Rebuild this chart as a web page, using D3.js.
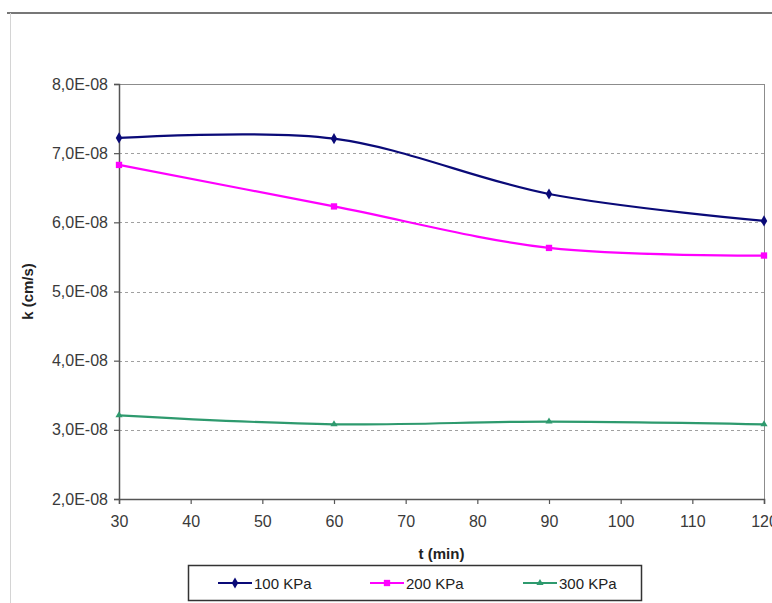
<!DOCTYPE html>
<html>
<head>
<meta charset="utf-8">
<script src="https://cdn.jsdelivr.net/npm/d3@7/dist/d3.min.js"></script>
<style>
  body { margin: 0; background: #fff; }
  svg { display: block; }
  text { font-family: "Liberation Sans", Arial, sans-serif; }
</style>
</head>
<body>
<svg id="chart" width="772" height="603"></svg>
<script>
// ---- data ----
const times = [30, 60, 90, 120];
const k100 = [7.22e-8, 7.21e-8, 6.41e-8, 6.02e-8];
const k200 = [6.83e-8, 6.23e-8, 5.63e-8, 5.52e-8];
const k300 = [3.21e-8, 3.08e-8, 3.12e-8, 3.08e-8];
const seriesNames = ["100 KPa", "200 KPa", "300 KPa"];
const seriesColors = ["#0a0a78", "#ff00ff", "#2e9a6e"];
const xTicks = [30, 40, 50, 60, 70, 80, 90, 100, 110, 120];
const yTicks = [2e-8, 3e-8, 4e-8, 5e-8, 6e-8, 7e-8, 8e-8];
const yTickLabels = ["2,0E-08", "3,0E-08", "4,0E-08", "5,0E-08", "6,0E-08", "7,0E-08", "8,0E-08"];
const xTitle = "t (min)";
const yTitle = "k (cm/s)";

const svg = d3.select("#chart");
const W = 772, H = 603;
const m = { left: 119, right: 764, top: 84, bottom: 499 };

// outer chart-area frame (cropped)
svg.append("line").attr("x1", 7).attr("x2", W).attr("y1", 13).attr("y2", 13)
  .attr("stroke", "#777").attr("stroke-width", 2);
svg.append("line").attr("x1", 10.5).attr("x2", 10.5).attr("y1", 13).attr("y2", H)
  .attr("stroke", "#d4d4d4").attr("stroke-width", 1);

const x = d3.scaleLinear().domain([30, 120]).range([m.left, m.right]);
const y = d3.scaleLinear().domain([2e-8, 8e-8]).range([m.bottom, m.top]);

// gridlines
svg.append("g").selectAll("line")
  .data(yTicks.filter(v => v > 2e-8 && v < 8e-8))
  .join("line")
  .attr("x1", m.left).attr("x2", m.right)
  .attr("y1", d => Math.round(y(d)) + 0.5).attr("y2", d => Math.round(y(d)) + 0.5)
  .attr("stroke", "#a0a0a0").attr("stroke-width", 1).attr("stroke-dasharray", "3,3");

// plot border
svg.append("rect").attr("x", m.left + 0.5).attr("y", m.top + 0.5)
  .attr("width", m.right - m.left).attr("height", m.bottom - m.top)
  .attr("fill", "none").attr("stroke", "#8c8c8c").attr("stroke-width", 1);

// axes
const yAxis = d3.axisLeft(y).tickValues(yTicks)
  .tickFormat((d, i) => yTickLabels[i]).tickSize(5).tickPadding(6);
const gy = svg.append("g").attr("transform", `translate(${m.left},0)`).call(yAxis);
const xAxis = d3.axisBottom(x).tickValues(xTicks).tickSize(5).tickPadding(12);
const gx = svg.append("g").attr("transform", `translate(0,${m.bottom})`).call(xAxis);
[gy, gx].forEach(g => {
  g.select(".domain").attr("stroke", "#555").attr("stroke-width", 1.5);
  g.selectAll(".tick line").attr("stroke", "#555").attr("stroke-width", 1.2);
  g.selectAll(".tick text").attr("fill", "#3a3a3a").style("font-size", "16px")
    .style("font-family", "'Liberation Sans', Arial, sans-serif");
});

// axis titles
svg.append("text").attr("x", (m.left + m.right) / 2).attr("y", 559)
  .attr("text-anchor", "middle").style("font-size", "15px").style("font-weight", "bold")
  .attr("fill", "#222").text(xTitle);
svg.append("text").attr("transform", `translate(33,${(m.top + m.bottom) / 2}) rotate(-90)`)
  .attr("text-anchor", "middle").style("font-size", "15px").style("font-weight", "bold")
  .attr("fill", "#222").text(yTitle);

// series
const allSeries = [k100, k200, k300];
const line = d3.line().x((d, i) => x(times[i])).y(d => y(d)).curve(d3.curveCardinal.tension(0));
const markerShapes = [d3.symbolDiamond, d3.symbolSquare, d3.symbolTriangle];
const markerSizes = [36, 40, 22];

allSeries.forEach((vals, si) => {
  svg.append("path").datum(vals).attr("d", line)
    .attr("fill", "none").attr("stroke", seriesColors[si]).attr("stroke-width", 2.2);
  svg.append("g").selectAll("path").data(vals).join("path")
    .attr("transform", (d, i) => `translate(${x(times[i])},${y(d)})`)
    .attr("d", d3.symbol().type(markerShapes[si]).size(markerSizes[si]))
    .attr("fill", seriesColors[si]);
});

// legend
const lg = svg.append("g");
lg.append("rect").attr("x", 188.5).attr("y", 565.5).attr("width", 453).attr("height", 35)
  .attr("fill", "#fff").attr("stroke", "#333").attr("stroke-width", 1.5);
const legendX = [218, 370, 523];
seriesNames.forEach((name, si) => {
  const lx = legendX[si], ly = 583;
  lg.append("line").attr("x1", lx).attr("x2", lx + 34).attr("y1", ly).attr("y2", ly)
    .attr("stroke", seriesColors[si]).attr("stroke-width", 2.2);
  lg.append("path").attr("transform", `translate(${lx + 17},${ly})`)
    .attr("d", d3.symbol().type(markerShapes[si]).size(markerSizes[si]))
    .attr("fill", seriesColors[si]);
  lg.append("text").attr("x", lx + 36).attr("y", ly + 5.5)
    .style("font-size", "15px").attr("fill", "#222").text(name);
});
</script>
</body>
</html>
